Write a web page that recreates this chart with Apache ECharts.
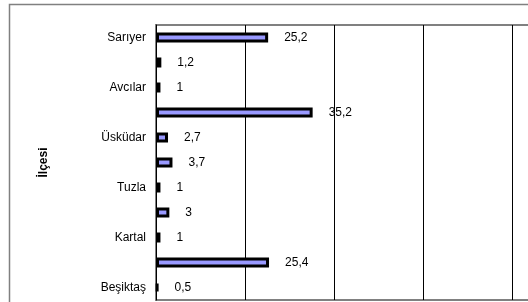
<!DOCTYPE html>
<html>
<head>
  <meta charset="UTF-8">
  <title>ilce</title>
  <style>
    html, body {
      margin: 0;
      padding: 0;
      background: #fff;
    }

    #main {
      width: 528px;
      height: 302px;
    }
  </style>
  <script src="https://cdn.jsdelivr.net/npm/echarts@6/dist/echarts.min.js"></script>
</head>

<body>
<div id="main"></div>

<script type="text/javascript">
  // kategori adları: ara satırların etiketi görünmüyor
  const ilceler = ['Sarıyer', '', 'Avcılar', '', 'Üsküdar', '', 'Tuzla', '', 'Kartal', '', 'Beşiktaş'];
  const degerler = [25.2, 1.2, 1, 35.2, 2.7, 3.7, 1, 3, 1, 25.4, 0.5];
  const xMax = 100;
  const xStep = 20;

  const font = "'Liberation Sans', Arial, sans-serif";
  const myChart = echarts.init(document.getElementById('main'));

  const option = {
    animation: false,
    textStyle: { fontFamily: font },
    graphic: [{
      type: 'rect',
      left: 7,
      top: 2,
      shape: { width: 600, height: 400 },
      style: { fill: 'none', stroke: '#808080', lineWidth: 1.5 },
      silent: true
    }],
    grid: {
      left: 156,
      top: 25,
      width: 445,
      height: 275,
      outerBoundsMode: 'none',
      containLabel: false,
      show: true,
      borderColor: '#808080',
      borderWidth: 2,
      backgroundColor: 'transparent'
    },
    xAxis: {
      type: 'value',
      min: 0,
      max: xMax,
      interval: xStep,
      axisLine: { show: false },
      axisTick: { show: false },
      axisLabel: { show: false },
      splitLine: { lineStyle: { color: '#000', width: 1 } }
    },
    yAxis: {
      type: 'category',
      inverse: true,
      data: ilceler,
      name: 'İlçesi',
      nameLocation: 'middle',
      nameRotate: 90,
      nameGap: 106,
      nameTextStyle: { fontSize: 12, fontWeight: 'bold', color: '#000', fontFamily: font },
      axisLine: { lineStyle: { color: '#000', width: 1 } },
      axisTick: { length: 5, lineStyle: { color: '#000' } },
      axisLabel: { interval: 1, fontSize: 12, color: '#000', margin: 10, fontFamily: font }
    },
    series: [{
      type: 'bar',
      data: degerler,
      barWidth: 10,
      itemStyle: { color: '#9999ff', borderColor: '#000', borderWidth: 3 },
      label: {
        show: true,
        position: 'right',
        distance: 16,
        fontSize: 12,
        color: '#000',
        fontFamily: font,
        formatter: function (p) {
          return String(p.value).replace('.', ',');
        }
      }
    }]
  };

  myChart.setOption(option);
</script>
</body>
</html>
